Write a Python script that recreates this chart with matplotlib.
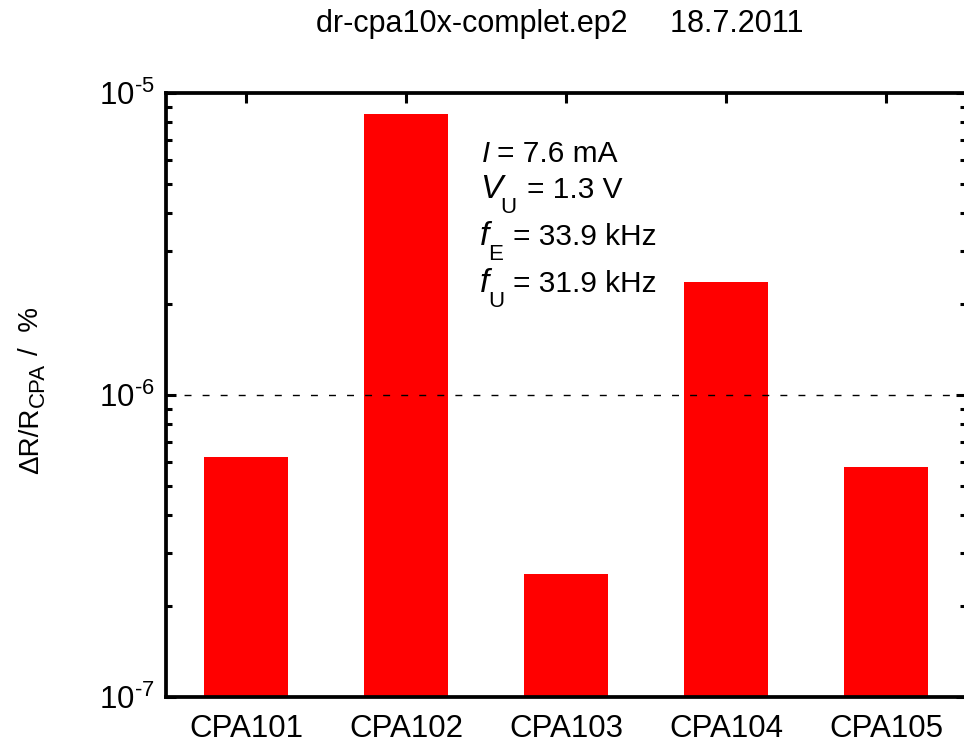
"""
Bar chart of dR/R for the CPA samples (log scale)
"""

import numpy as np
import matplotlib
matplotlib.use("Agg")
import matplotlib.pyplot as plt

plt.rcParams['font.family'] = ['Liberation Sans', 'DejaVu Sans']
plt.rcParams['mathtext.fontset'] = 'custom'
plt.rcParams['mathtext.rm'] = 'Liberation Sans'
plt.rcParams['mathtext.it'] = 'Liberation Sans:italic'
plt.rcParams['mathtext.default'] = 'rm'

# Data
samples = ['CPA101', 'CPA102', 'CPA103', 'CPA104', 'CPA105']
dr_rel = [6.24e-7, 8.5e-6, 2.55e-7, 2.37e-6, 5.78e-7]
threshold = 1e-6

title = 'dr-cpa10x-complet.ep2     18.7.2011'
# (variable, subscript, rest of the line)
info_lines = [('I', '', '= 7.6 mA'),
              ('V', 'U', '= 1.3 V'),
              ('f', 'E', '= 33.9 kHz'),
              ('f', 'U', '= 31.9 kHz')]
ylabel_parts = ['\u0394R/R', 'CPA', '/  %']

W, H = 964, 742
fig = plt.figure(figsize=(W / 100, H / 100), dpi=100)
ax = fig.add_axes([166/W, 1 - 697/H, 800/W, (697 - 93)/H])

x = np.arange(1, len(samples) + 1)
ax.bar(x, dr_rel, width=0.52, bottom=1e-9, color='#ff0000', edgecolor='none', zorder=2)
ax.axhline(threshold, color='black', linestyle=(0, (5, 8)), linewidth=1.0, zorder=3)

ax.set_yscale('log')
ax.set_ylim(1e-7, 1e-5)
ax.set_xlim(0.5, 5.5)
ax.set_xticks(x)
ax.set_xticklabels(samples)
ax.set_yticks([1e-7, 1e-6, 1e-5])
ax.set_yticklabels([r'$10^{\text{-}7}$', r'$10^{\text{-}6}$', r'$10^{\text{-}5}$'])

for s in ax.spines.values():
    s.set_linewidth(2.7)
ax.tick_params(axis='both', which='both', direction='in', top=True, right=True,
               labelsize=22.5)
ax.tick_params(axis='x', which='major', length=7, width=2.2, pad=12)
ax.tick_params(axis='y', which='major', length=7, width=2.2, pad=8)
ax.tick_params(axis='y', which='minor', length=4.5, width=2.2)

def px(xp, yp):
    return xp / W, 1 - yp / H

# y label built from pieces so the subscript keeps its size
ylab_pos = [(38, 474, 20), (44, 407, 16), (38, 355, 20)]
for part, (xl, yl, fs) in zip(ylabel_parts, ylab_pos):
    fig.text(*px(xl, yl), part, rotation=90, rotation_mode='anchor',
             ha='left', va='baseline', fontsize=fs)

fig.text(*px(560, 32), title, ha='center', va='baseline', fontsize=22)

# pixel layout of the parameter box: baseline, var x, var size, sub x, rest x
box = [(162, 482, 21, 0, 497),
       (198, 480, 24, 500, 527),
       (245, 480, 24, 488, 513),
       (292, 480, 24, 488, 513)]
for (var, sub, rest), (yb, xv, fs_v, xs, xr) in zip(info_lines, box):
    fig.text(*px(xv, yb), var, style='italic', ha='left', va='baseline', fontsize=fs_v)
    if sub:
        fig.text(*px(xs, yb + 15), sub, ha='left', va='baseline', fontsize=16)
    fig.text(*px(xr, yb), rest, ha='left', va='baseline', fontsize=21.5)

fig.savefig('out.png', dpi=100)
